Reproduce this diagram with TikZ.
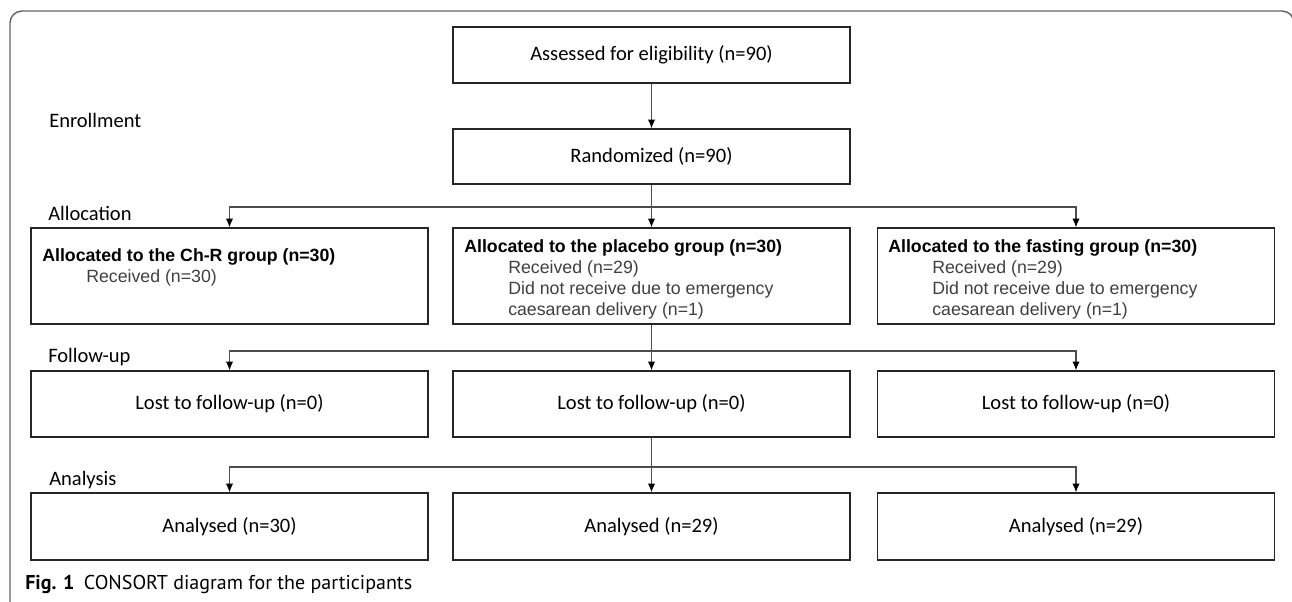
\documentclass[tikz,border=0pt]{standalone}
\usepackage{fontspec}
\setmainfont{Carlito}
\newfontfamily\arialfont{Liberation Sans}
\newfontfamily\captionfont{PT Sans}
\usetikzlibrary{arrows.meta}
\definecolor{subgray}{gray}{0.25}
\newcommand{\recv}[1]{\hspace*{33pt}\textcolor{subgray}{#1}}
\tikzset{
    >={Latex[length=6.5pt, width=5.5pt, color=black]},
    stagebox/.style={draw=black!85, line width=1.1pt, minimum width=297.75pt, inner sep=0pt,
        font=\fontsize{15.4}{18}\selectfont},
    alloctext/.style={anchor=north west, inner sep=0pt, align=left,
        font=\arialfont\fontsize{13.3}{15.75}\selectfont},
    phase/.style={anchor=west, inner sep=0pt, font=\fontsize{15.4}{18}\selectfont},
    link/.style={draw=black!70, line width=0.8pt},
    frame/.style={draw=black!60, line width=1.1pt, rounded corners=9},
}

\begin{document}
\begin{tikzpicture}[x=0.75pt, y=-0.75pt]
    \useasboundingbox (0,0) rectangle (1292,601);
    \begin{scope}
        \clip (0,0) rectangle (1292,601);
        \draw[frame] (10,610) -- (10,11) -- (1294,11) -- (1294,610);
    \end{scope}
    \node[stagebox, minimum height=42pt] (assess) at (651.5,55) {Assessed for eligibility (n=90)};
    \node[stagebox, minimum height=41.25pt] (random) at (651.5,156.5) {Randomized (n=90)};
    \foreach \i/\x in {1/229.5, 2/651.5, 3/1076} {
        \node[stagebox, minimum height=72pt] (alloc\i) at (\x,276) {};
        \node[stagebox, minimum height=49.5pt] (follow\i) at (\x,404) {Lost to follow-up (n=0)};
    }
    \foreach \i/\x/\n in {1/229.5/30, 2/651.5/29, 3/1076/29}
        \node[stagebox, minimum height=50.25pt] (anal\i) at (\x,526.5) {Analysed (n=\n)};
    \node[alloctext] (alloc1-txt) at (42,248) {\textbf{Allocated to the Ch-R group (n=30)}\\
        \recv{Received (n=30)}};
    \foreach \i/\x/\grp in {2/464/placebo, 3/888/fasting}
        \node[alloctext] (alloc\i-txt) at (\x,239) {\textbf{Allocated to the \grp\ group (n=30)}\\
            \recv{Received (n=29)}\\ \recv{Did not receive due to emergency}\\
            \recv{caesarean delivery (n=1)}};
    \node[phase] (enrol) at (49,120) {Enrollment};
    \node[phase] (allocation) at (48,213) {Allocation};
    \node[phase] (followup) at (48,357) {Follow-up};
    \node[phase] (analysis) at (49,480) {Analysis};
    \draw[->, link] (assess) -- (random);
    \foreach \src/\dst/\y in {random/alloc/207, alloc2/follow/351, follow2/anal/467} {
        \coordinate (split-\dst) at (\src.south |- 0,\y);
        \draw[link] (\src) -- (split-\dst);
        \draw[->, link] (split-\dst) -- (\dst2);
        \foreach \k in {1,3}
            \draw[->, link] (split-\dst) -| (\dst\k);
    }
    \node[anchor=base west, inner sep=0pt, font=\captionfont\fontsize{15}{18}\selectfont] (caption)
        at (25,589) {\textbf{Fig. 1}\hspace{7pt}CONSORT diagram for the participants};
\end{tikzpicture}
\end{document}
